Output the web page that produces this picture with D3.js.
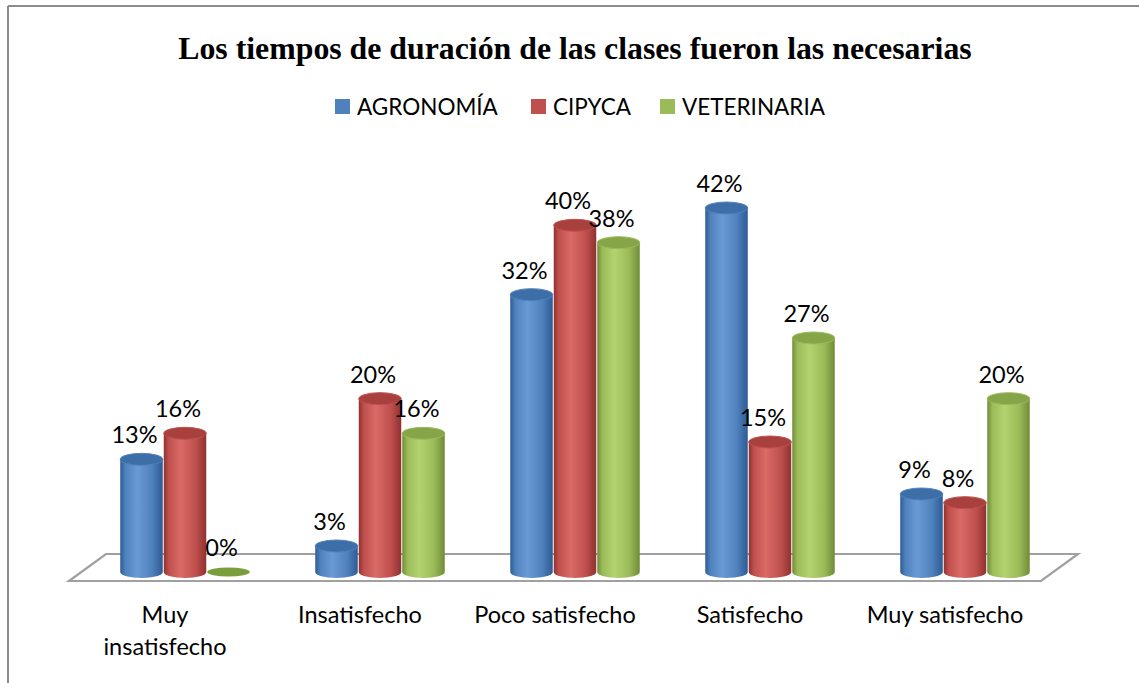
<!DOCTYPE html>
<html><head><meta charset="utf-8">
<script src="https://cdn.jsdelivr.net/npm/d3@7"></script>
<style>body{margin:0;background:#fff}svg{display:block}</style>
</head><body>
<script>
const title = "Los tiempos de duración de las clases fueron las necesarias";
const categories = ["Muy insatisfecho", "Insatisfecho", "Poco satisfecho", "Satisfecho", "Muy satisfecho"];
const categoryLines = [["Muy", "insatisfecho"], ["Insatisfecho"], ["Poco satisfecho"], ["Satisfecho"], ["Muy satisfecho"]];
const series = ["AGRONOMÍA", "CIPYCA", "VETERINARIA"];
const agronomia = [0.13, 0.03, 0.32, 0.42, 0.09];
const cipyca = [0.16, 0.20, 0.40, 0.15, 0.08];
const veterinaria = [0.00, 0.16, 0.38, 0.27, 0.20];
const seriesValues = [agronomia, cipyca, veterinaria];
const colors = ["#4F81BD", "#C0504D", "#9BBB59"];
const dark = ["#2d5b94", "#8e3230", "#6f8c36"];
const light = ["#6a9ad6", "#d96a66", "#b3d370"];
const topCol = ["#3d6ea8", "#a8403d", "#86a548"];

const W = 1139, H = 683;
const svg = d3.select("body").append("svg").attr("width", W).attr("height", H);
const defs = svg.append("defs");
series.forEach((s, i) => {
  const g = defs.append("linearGradient").attr("id", "cyl" + i).attr("x1", 0).attr("x2", 1).attr("y1", 0).attr("y2", 0);
  g.append("stop").attr("offset", 0).attr("stop-color", dark[i]);
  g.append("stop").attr("offset", 0.12).attr("stop-color", colors[i]);
  g.append("stop").attr("offset", 0.4).attr("stop-color", light[i]);
  g.append("stop").attr("offset", 0.75).attr("stop-color", colors[i]);
  g.append("stop").attr("offset", 1).attr("stop-color", dark[i]);
});

// frame (top and left edges visible)
svg.append("line").attr("x1", 8).attr("y1", 6).attr("x2", W).attr("y2", 6).attr("stroke", "#8c8c8c").attr("stroke-width", 2);
svg.append("line").attr("x1", 8).attr("y1", 6).attr("x2", 8).attr("y2", H).attr("stroke", "#8c8c8c").attr("stroke-width", 2);

// title
svg.append("text").attr("x", 575).attr("y", 59).attr("text-anchor", "middle")
  .attr("font-family", "Liberation Serif, Times New Roman, serif").attr("font-weight", "bold")
  .attr("font-size", 31.8).attr("fill", "#000").text(title);

// legend
const legendX = [335, 531, 660];
series.forEach((s, i) => {
  const g = svg.append("g").attr("transform", `translate(${legendX[i]},0)`);
  g.append("rect").attr("x", 0).attr("y", 99).attr("width", 15).attr("height", 15).attr("fill", colors[i]);
  g.append("text").attr("x", 22).attr("y", 115).attr("font-family", "Lato, Open Sans, sans-serif")
    .attr("font-size", 22.5).attr("fill", "#000").text(s);
});

// scales
const x = d3.scaleBand().domain(categories).range([87.5, 1062.5]);
const xs = d3.scaleBand().domain(series).range([-65.25, 65.25]);
const y = d3.scaleLinear().domain([0, 0.42]).range([572, 208]);
const ry = 6;

// floor
const floorBack = 554, floorFront = 581, depth = 37;
svg.append("path")
  .attr("d", `M${69},${floorFront} L${69 + depth},${floorBack} L${1078},${floorBack} L${1078 - depth},${floorFront} Z`)
  .attr("fill", "#fff").attr("stroke", "#a0a0a0").attr("stroke-width", 2.2);

// cylinders
const gBars = svg.append("g");
categories.forEach((c, ci) => {
  series.forEach((s, si) => {
    const v = seriesValues[si][ci];
    const cx = x(c) + x.bandwidth() / 2 + xs(s) + xs.bandwidth() / 2;
    const rx = xs.bandwidth() / 2 - 0.5;
    const yb = y(0), yt = y(v);
    const g = gBars.append("g");
    if (v > 0) {
      g.append("path")
        .attr("d", `M${cx - rx},${yt} L${cx - rx},${yb} A${rx},${ry} 0 0 0 ${cx + rx},${yb} L${cx + rx},${yt} Z`)
        .attr("fill", `url(#cyl${si})`);
      g.append("ellipse").attr("cx", cx).attr("cy", yt).attr("rx", rx).attr("ry", ry)
        .attr("fill", topCol[si]).attr("stroke", colors[si]).attr("stroke-width", 1);
    } else {
      g.append("ellipse").attr("cx", cx).attr("cy", yb).attr("rx", rx).attr("ry", ry - 1.5)
        .attr("fill", "#7a9e3c");
    }
    // value label
    svg.append("text").attr("x", cx - 7).attr("y", yt - ry - 10)
      .attr("text-anchor", "middle").attr("font-family", "Lato, Open Sans, sans-serif")
      .attr("font-size", 23.5).attr("fill", "#000").text(Math.round(v * 100) + "%");
  });
});

// category labels
categories.forEach((c, ci) => {
  const cx = x(c) + x.bandwidth() / 2 - 20;
  categoryLines[ci].forEach((line, li) => {
    svg.append("text").attr("x", cx).attr("y", 623 + li * 32).attr("text-anchor", "middle")
      .attr("font-family", "Lato, Open Sans, sans-serif").attr("font-size", 23.5).attr("fill", "#000").text(line);
  });
});
</script>
</body></html>
